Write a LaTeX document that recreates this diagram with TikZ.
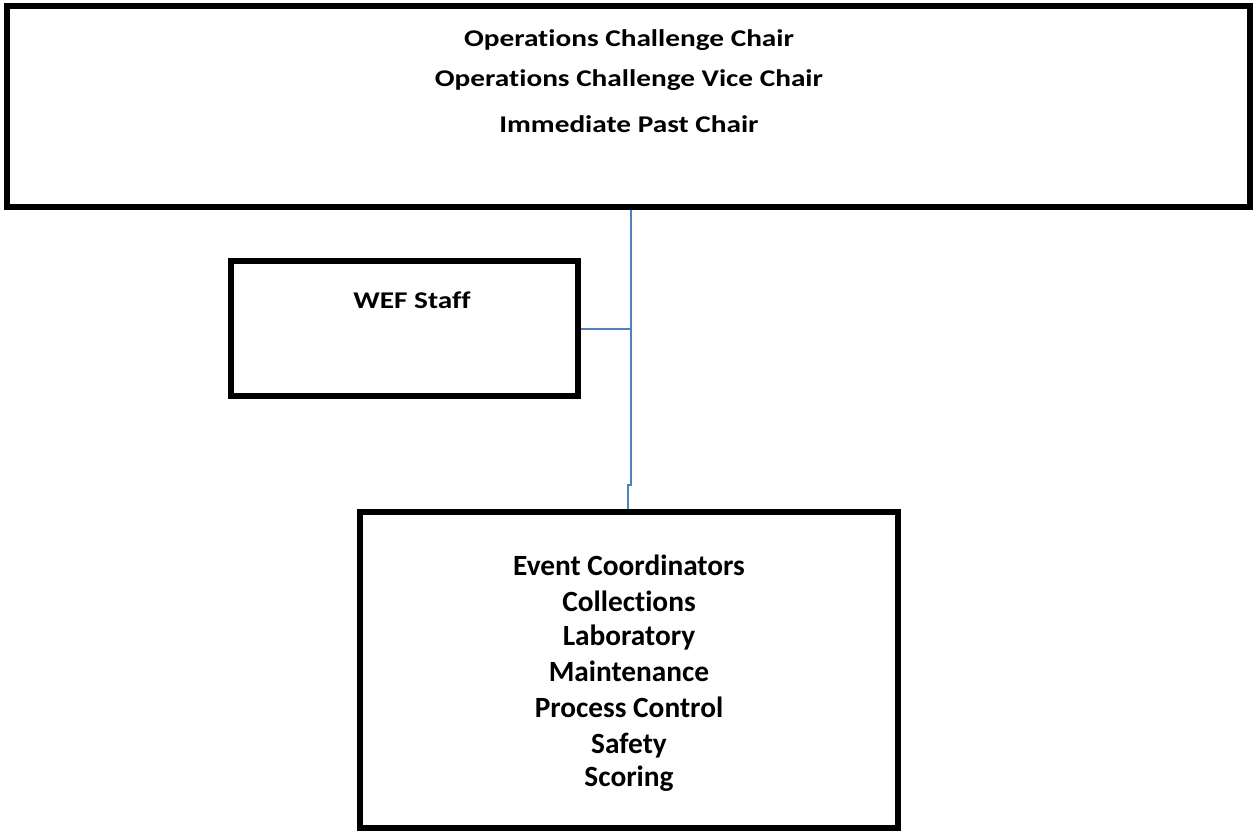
\documentclass[tikz,border=0pt]{standalone}
\usepackage{fontspec}
\setmainfont{Carlito}[Ligatures={NoCommon}]
\newfontfamily\squashfont{Carlito}[FakeStretch=1.22,Ligatures={NoCommon}]
\begin{document}
\begin{tikzpicture}[x=0.75pt,y=-0.75pt,
  orgbox/.style={draw=black,line width=4.5pt,fill=white,inner sep=0pt,rectangle},
  lbl/.style={font=\bfseries\fontsize{22}{26}\selectfont,anchor=base,inner sep=0pt},
  slbl/.style={font=\squashfont\bfseries\fontsize{18}{22}\selectfont,anchor=base,inner sep=0pt},
  link/.style={draw={rgb,255:red,79;green,129;blue,189},line width=1.5pt}]
\useasboundingbox (0,0) rectangle (1257,831);
\node[orgbox,minimum width=1243*0.75pt,minimum height=201*0.75pt] (top) at (628.5,106.5) {};
\node[orgbox,minimum width=347*0.75pt,minimum height=135*0.75pt] (wef) at (404.5,328.5) {};
\node[orgbox,minimum width=538*0.75pt,minimum height=316*0.75pt] (bot) at (629,670) {};
\node[slbl] (t1) at (629,47) {Operations Challenge Chair};
\node[slbl] (t2) at (629,87) {Operations Challenge Vice Chair};
\node[slbl] (t3) at (629,133) {Immediate Past Chair};
\node[slbl] (w1) at (412,308) {WEF Staff};
\node[lbl] (b1) at (629,575) {Event Coordinators};
\node[lbl] (b2) at (629,611) {Collections};
\node[lbl] (b3) at (629,645) {Laboratory};
\node[lbl] (b4) at (629,681) {Maintenance};
\node[lbl] (b5) at (629,717) {Process Control};
\node[lbl] (b6) at (629,753) {Safety};
\node[lbl] (b7) at (629,786) {Scoring};
\coordinate (jx) at (631,485);
\coordinate (jy) at (628,485);
\draw[link] (top.south -| jx) -- (jx) -- (jy) -- (bot.north -| jy);
\draw[link] (wef.east) -- (wef.east -| jx);
\end{tikzpicture}
\end{document}
